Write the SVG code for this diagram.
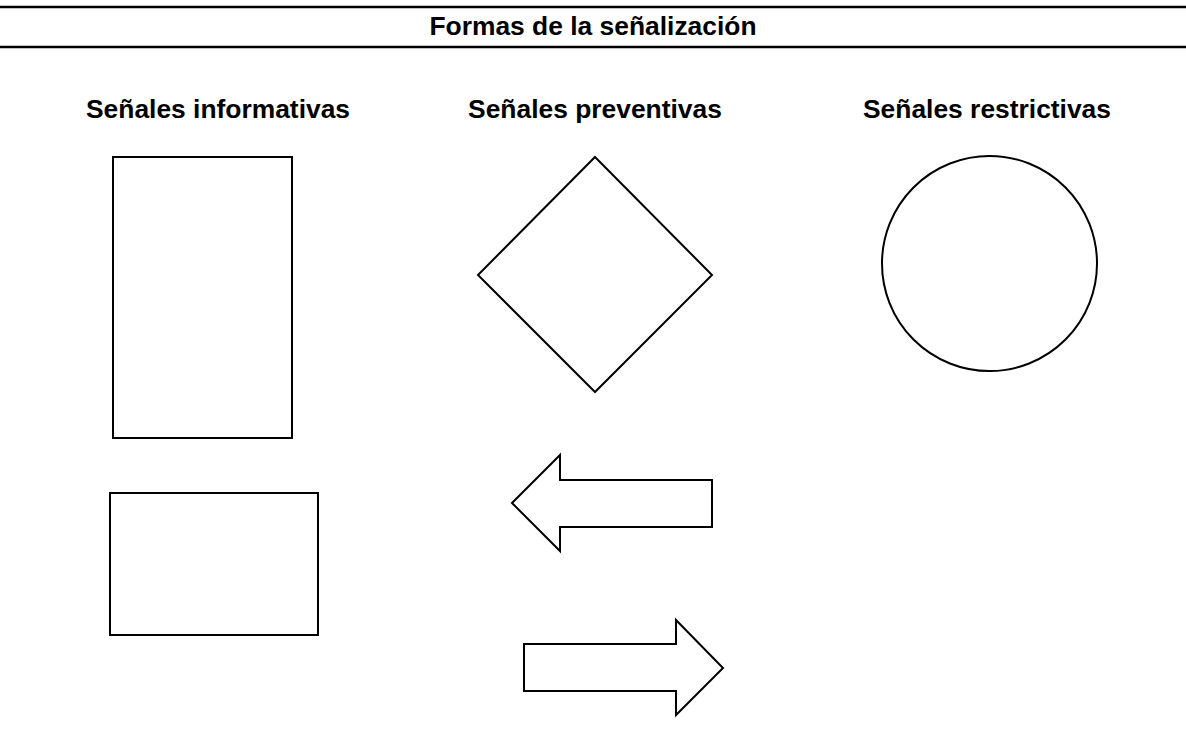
<svg xmlns="http://www.w3.org/2000/svg" width="1186" height="732" viewBox="0 0 1186 732">
<style>
.t{font-family:"Liberation Sans",Arial,sans-serif;font-weight:bold;font-size:26.4px;fill:#000;text-anchor:middle}
.s{fill:#fff;stroke:#000;stroke-width:2}
.rule{stroke:#000;stroke-width:2.5}
</style>
<rect width="1186" height="732" fill="#fff"/>
<g id="header">
<line class="rule" x1="0" y1="7" x2="1186" y2="7"/>
<line class="rule" x1="0" y1="47" x2="1186" y2="47"/>
<text class="t" x="593" y="35">Formas de la señalización</text>
</g>
<g id="col-informativas">
<text class="t" x="218" y="118">Señales informativas</text>
<rect id="rect-tall" class="s" x="113" y="157" width="179" height="281"/>
<rect id="rect-wide" class="s" x="110" y="493" width="208" height="142"/>
</g>
<g id="col-preventivas">
<text class="t" x="595" y="118">Señales preventivas</text>
<polygon id="diamond" class="s" points="595,157 712,275 595,392 478,275"/>
<polygon id="arrow-left" class="s" points="512,503 560,455 560,480 712,480 712,527 560,527 560,551"/>
<polygon id="arrow-right" class="s" points="524,644 676,644 676,620 723,668 676,715 676,691 524,691"/>
</g>
<g id="col-restrictivas">
<text class="t" x="987" y="118">Señales restrictivas</text>
<circle id="circle" class="s" cx="989.5" cy="263.5" r="107.5"/>
</g>
<g id="connectors"/>
</svg>
